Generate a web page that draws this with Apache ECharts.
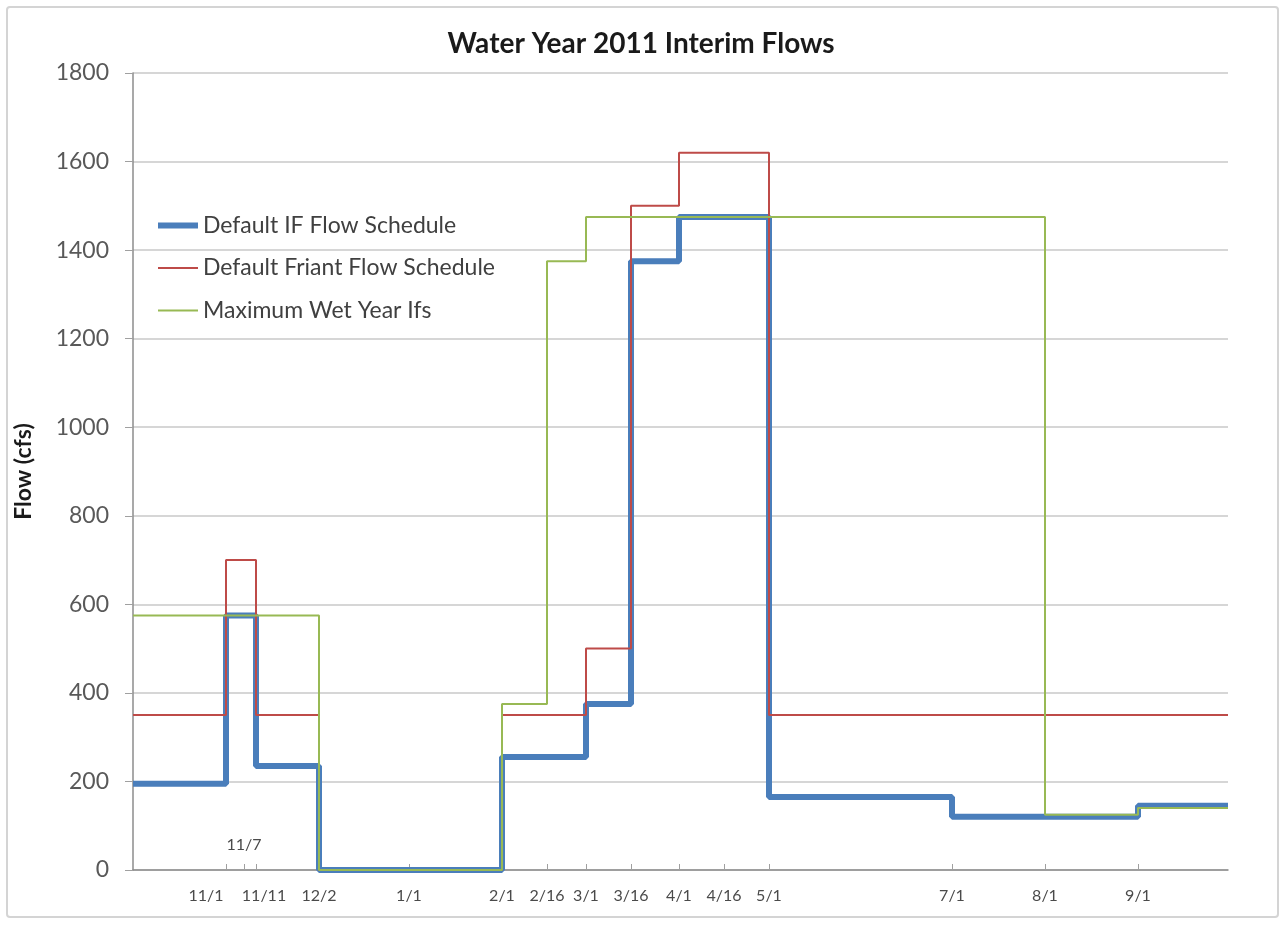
<!DOCTYPE html>
<html>
<head>
<meta charset="utf-8">
<script src="https://cdn.jsdelivr.net/npm/echarts@6/dist/echarts.min.js"></script>
<style>
html,body{margin:0;padding:0;background:#fff;}
#chart{width:1282px;height:929px;}
</style>
</head>
<body>
<div id="chart"></div>
<script>
// ---- data ----
const tickDates = ['2010-11-01','2010-11-11','2010-12-02','2011-01-01','2011-02-01','2011-02-16','2011-03-01','2011-03-16','2011-04-01','2011-04-16','2011-05-01','2011-07-01','2011-08-01','2011-09-01'];
const tickLabels = ['11/1','11/11','12/2','1/1','2/1','2/16','3/1','3/16','4/1','4/16','5/1','7/1','8/1','9/1'];
const upperTickDates = ['2010-11-07'];
const upperTickLabels = ['11/7'];

const ifDates = ['2010-10-01','2010-11-01','2010-11-11','2010-12-02','2011-02-01','2011-03-01','2011-03-16','2011-04-01','2011-05-01','2011-07-01','2011-09-01','2011-10-01'];
const ifFlow  = [195, 575, 235, 0, 255, 375, 1375, 1475, 165, 120, 145, 145];

const friantDates = ['2010-10-01','2010-11-01','2010-11-11','2010-12-02','2011-02-01','2011-03-01','2011-03-16','2011-04-01','2011-05-01','2011-10-01'];
const friantFlow  = [350, 700, 350, 0, 350, 500, 1500, 1620, 350, 350];

const wetDates = ['2010-10-01','2010-12-02','2011-02-01','2011-02-16','2011-03-01','2011-08-01','2011-09-01','2011-10-01'];
const wetFlow  = [575, 0, 375, 1375, 1475, 125, 140, 140];

const seriesNames = ['Default IF Flow Schedule','Default Friant Flow Schedule','Maximum Wet Year Ifs'];
const yTicks = {min:0, max:1800, interval:200};
const xRange = ['2010-10-01','2011-10-01'];

// ---- build ----
// x positions are days since the start of the water year (Oct 1, 2010)
function dayOf(d){ const p=d.split('-').map(Number); return Math.round((Date.UTC(p[0],p[1]-1,p[2]) - Date.UTC(2010,9,1))/86400000); }
function pairs(ds, vs){ return ds.map((d,i)=>[dayOf(d), vs[i]]); }
const tickDays = tickDates.map(dayOf);
const upperDays = upperTickDates.map(dayOf);
const allTickDays = tickDays.concat(upperDays);

const FONT = 'Lato';
const labelColor = '#595959';
const xLabelColor = '#4a4a4a';
const colors = ['#4a7ebb','#be4b48','#98b954'];
const thickIcon = 'path://M0,0L40,0L40,6L0,6Z';
const thinIcon = 'path://M0,0L40,0L40,2L0,2Z';

const chart = echarts.init(document.getElementById('chart'), null, {renderer:'canvas'});
chart.setOption({
  backgroundColor:'#fff',
  animation:false,
  title:{
    text:'Water Year 2011 Interim Flows',
    left:'center', top:25,
    textStyle:{fontFamily:FONT, fontWeight:'bold', fontSize:28, color:'#1a1a1a'}
  },
  graphic:[{
    type:'rect', silent:true, z:-10,
    shape:{x:7, y:7, width:1271, height:910, r:3},
    style:{fill:'none', stroke:'#d4d4d4', lineWidth:2}
  }],
  legend:{
    orient:'vertical', left:153, top:209,
    itemWidth:40, itemHeight:14, itemGap:19.5,
    textStyle:{fontFamily:FONT, fontSize:23, color:'#404040'},
    data:[
      {name:seriesNames[0], icon:thickIcon},
      {name:seriesNames[1], icon:thinIcon},
      {name:seriesNames[2], icon:thinIcon}
    ]
  },
  grid:{left:133, right:54, top:73, bottom:59, containLabel:false},
  xAxis:[{
    type:'value',
    min:dayOf(xRange[0]), max:dayOf(xRange[1]),
    axisLine:{lineStyle:{color:'#8c8c8c', width:1.5}},
    axisTick:{show:true, inside:true, length:6, lineStyle:{color:'#a0a0a0'}, customValues:allTickDays},
    splitLine:{show:false},
    axisLabel:{
      customValues:tickDays,
      margin:18,
      fontFamily:FONT, fontSize:16, color:xLabelColor,
      formatter:function(v){
        const i = tickDays.indexOf(v);
        const s = i>=0 ? tickLabels[i] : '';
        if (s==='11/1') return '{l|'+s+'}';
        if (s==='11/11') return '{r|'+s+'}';
        return s;
      },
      rich:{
        l:{fontFamily:FONT, fontSize:16, color:xLabelColor, padding:[0,40,0,0]},
        r:{fontFamily:FONT, fontSize:16, color:xLabelColor, padding:[0,0,0,16]}
      }
    }
  },{
    type:'value',
    position:'bottom',
    min:dayOf(xRange[0]), max:dayOf(xRange[1]),
    axisLine:{show:false},
    axisTick:{show:false},
    splitLine:{show:false},
    axisLabel:{
      inside:true,
      customValues:upperDays,
      margin:17,
      fontFamily:FONT, fontSize:16, color:xLabelColor,
      formatter:function(v){ const i=upperDays.indexOf(v); return i>=0?upperTickLabels[i]:''; }
    }
  }],
  yAxis:{
    type:'value',
    min:yTicks.min, max:yTicks.max, interval:yTicks.interval,
    name:'Flow (cfs)', nameLocation:'middle', nameGap:98,
    nameTextStyle:{fontFamily:FONT, fontWeight:'bold', fontSize:23, color:'#1a1a1a'},
    axisLine:{show:true, lineStyle:{color:'#8c8c8c', width:1.5}},
    axisTick:{show:true, length:8, lineStyle:{color:'#a0a0a0'}},
    axisLabel:{margin:24, fontFamily:FONT, fontSize:23, color:labelColor,
      formatter:function(v){ return String(v); }},
    splitLine:{lineStyle:{color:'#d6d6d6', width:2}}
  },
  series:[
    {name:seriesNames[0], type:'line', step:'end', showSymbol:false, symbol:'none', z:2,
     data:pairs(ifDates, ifFlow),
     lineStyle:{color:colors[0], width:6}, itemStyle:{color:colors[0]}},
    {name:seriesNames[1], type:'line', step:'end', showSymbol:false, symbol:'none', z:3,
     data:pairs(friantDates, friantFlow),
     lineStyle:{color:colors[1], width:2}, itemStyle:{color:colors[1]}},
    {name:seriesNames[2], type:'line', step:'end', showSymbol:false, symbol:'none', z:4,
     data:pairs(wetDates, wetFlow),
     lineStyle:{color:colors[2], width:2}, itemStyle:{color:colors[2]}}
  ]
});
</script>
</body>
</html>
